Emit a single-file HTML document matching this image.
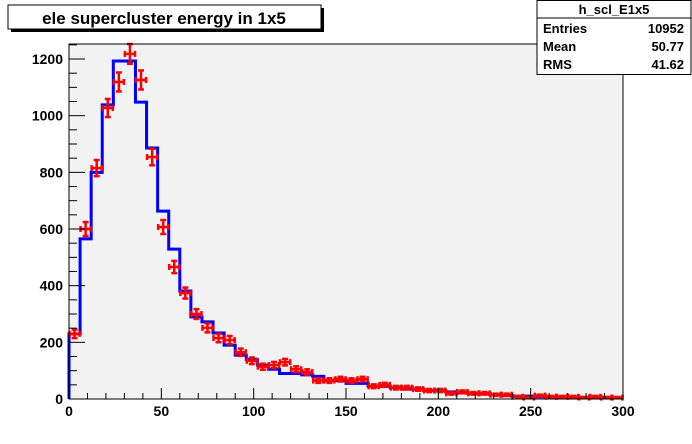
<!DOCTYPE html>
<html><head><meta charset="utf-8"><style>
body{margin:0;background:#fff;}
svg{display:block;font-family:"Liberation Sans",Arial,sans-serif;}
</style></head><body>
<svg id="c" width="692" height="444" viewBox="0 0 692 444">
<rect x="0" y="0" width="692" height="444" fill="#fff"/>
<rect x="69" y="44" width="554" height="355" fill="#f2f2f2" stroke="none"/>
<g id="hist"></g>
<g id="pts"></g>
<rect x="69" y="44" width="554" height="355" fill="none" stroke="#000" stroke-width="1"/>
<g id="axes"></g>
<g>
<rect x="11" y="8" width="313" height="24" fill="#000"/>
<rect x="8" y="5" width="313" height="24" fill="#fff" stroke="#000"/>
<text x="164" y="24" text-anchor="middle" font-size="17" font-weight="bold">ele supercluster energy in 1x5</text>
</g>
<g>
<rect x="537" y="0.5" width="154" height="74" fill="#fff" stroke="#000"/>
<line x1="537" y1="18" x2="691" y2="18" stroke="#000"/>
<text x="614" y="14" text-anchor="middle" font-size="13" font-weight="bold">h_scl_E1x5</text>
<text x="543" y="33" font-size="13" font-weight="bold">Entries</text>
<text x="684" y="33" text-anchor="end" font-size="13" font-weight="bold">10952</text>
<text x="543" y="51" font-size="13" font-weight="bold">Mean</text>
<text x="684" y="51" text-anchor="end" font-size="13" font-weight="bold">50.77</text>
<text x="543" y="69" font-size="13" font-weight="bold">RMS</text>
<text x="684" y="69" text-anchor="end" font-size="13" font-weight="bold">41.62</text>
</g>
</svg>
<script>
const binWidth = 6;
const mcValues = [230,565,800,1038,1193,1193,1048,886,663,529,381,290,272,233,190,155,140,120,105,90,90,85,80,65,65,55,55,45,45,40,35,35,30,30,25,22,20,18,15,12,10,10,8,8,6,6,5,5,5,4];
const dataValues = [230,600,815,1027,1119,1218,1126,854,607,466,374,300,251,215,208,165,135,114,120,130,105,95,65,65,70,65,70,45,50,40,40,35,30,30,20,25,20,20,15,15,8,5,12,8,8,8,5,8,5,5];
const xTicks = [0,50,100,150,200,250,300];
const yTicks = [0,200,400,600,800,1000,1200];
const NS='http://www.w3.org/2000/svg';
const X0=69,X1=623,Y0=399,Y1=44,xmax=300,ymax=1253;
const sx=v=>X0+(v/xmax)*(X1-X0);
const sy=v=>Y0-(v/ymax)*(Y0-Y1);
function mk(tag,attrs,parent){const e=document.createElementNS(NS,tag);for(const k in attrs)e.setAttribute(k,attrs[k]);parent.appendChild(e);return e;}
// histogram
let d='M'+sx(0)+','+sy(0);
mcValues.forEach((v,i)=>{d+=' L'+sx(i*binWidth)+','+sy(v)+' L'+sx((i+1)*binWidth)+','+sy(v);});
const hp=mk('path',{d:d,fill:'none',stroke:'#0000ff','stroke-width':3},document.getElementById('hist'));


// points
const pg=document.getElementById('pts');
dataValues.forEach((v,i)=>{
  const cx=sx((i+0.5)*binWidth), e=Math.sqrt(v);
  const g=mk('g',{stroke:'#ff0000','stroke-width':2.5,fill:'none'},pg);
  
  
  const xl=sx(i*binWidth)+0.5,xr=sx((i+1)*binWidth)-0.5,yt=sy(v+e),yb=sy(Math.max(0,v-e)),cy=sy(v);
  mk('line',{x1:xl,y1:cy,x2:xr,y2:cy},g);
  mk('line',{x1:cx,y1:yt,x2:cx,y2:yb},g);
  mk('line',{x1:cx-3,y1:yt,x2:cx+3,y2:yt},g);
  mk('line',{x1:cx-3,y1:yb,x2:cx+3,y2:yb},g);
  mk('line',{x1:xl,y1:cy-3,x2:xl,y2:cy+3},g);
  mk('line',{x1:xr,y1:cy-3,x2:xr,y2:cy+3},g);
});
// axes
const ag=document.getElementById('axes');
for(let v=0;v<=1250;v+=50){
  const y=sy(v),maj=v%200===0;
  mk('line',{x1:X0,y1:y,x2:X0+(maj?16:8),y2:y,stroke:'#000'},ag);
}
yTicks.forEach(v=>{
  const t=mk('text',{x:63,y:sy(v)+5,'text-anchor':'end','font-size':14,'font-weight':'bold'},ag);
  t.textContent=v;
  
  
});
for(let v=0;v<=300;v+=10){
  const x=sx(v),maj=v%50===0;
  mk('line',{x1:x,y1:Y0,x2:x,y2:Y0-(maj?11:6),stroke:'#000'},ag);
}
xTicks.forEach(v=>{
  const t=mk('text',{x:sx(v),y:416,'text-anchor':'middle','font-size':14,'font-weight':'bold'},ag);
  t.textContent=v;
  
  
});
</script>
</body></html>
